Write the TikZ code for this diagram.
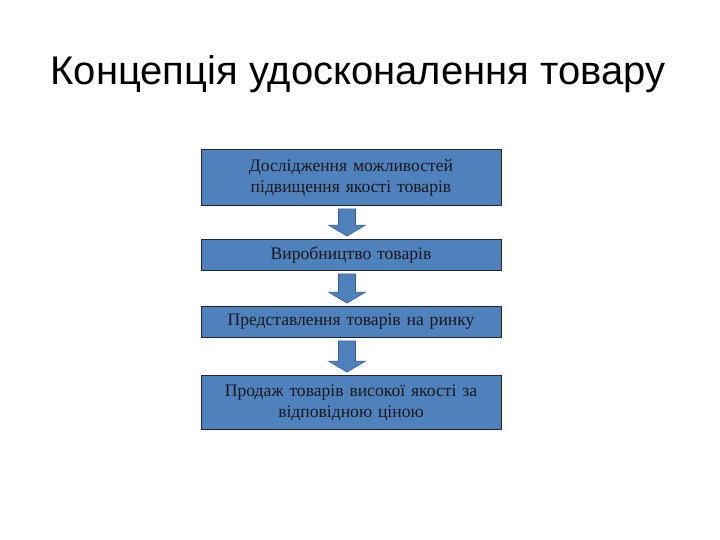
\documentclass[tikz,border=0pt]{standalone}
\usepackage{fontspec}
\usetikzlibrary{calc}
\setmainfont{Liberation Serif}
\newfontfamily\titlefont{Liberation Sans}
\definecolor{boxblue}{HTML}{4F81BD}
\definecolor{arrowedge}{HTML}{3A5F8C}
\begin{document}
\begin{tikzpicture}[x=1pt,y=-1pt,
  stepbox/.style={draw=black!85, line width=0.8pt, fill=boxblue, minimum width=300pt, text width=296pt, align=center, inner sep=0pt, font=\fontsize{17.6}{21}\selectfont, text=black!90},
  blockarrow/.style={draw=arrowedge, line width=0.6pt, fill=boxblue}]
\useasboundingbox (0,0) rectangle (720,540);
\node[font=\titlefont\fontsize{40}{48}\selectfont, anchor=base] (title) at (358,85) {Концепція удосконалення товару};
\node[stepbox, minimum height=56pt] (b1) at (351,177.5) {Дослідження можливостей\\підвищення якості товарів};
\node[stepbox, minimum height=31pt] (b2) at (351,255) {Виробництво товарів};
\node[stepbox, minimum height=31pt] (b3) at (351,322) {Представлення товарів на ринку};
\node[stepbox, minimum height=54pt] (b4) at (351,402.5) {Продаж товарів високої якості за\\відповідною ціною};
\foreach \a/\b in {b1/b2, b2/b3, b3/b4} {
  \path (\a.south) ++(-4,3) coordinate (s);
  \path (\b.north) ++(-4,-3) coordinate (t);
  \draw[blockarrow] ($(s)+(-8.5,0)$) -- ($(s)+(8.5,0)$) |- ($(t)+(18.5,-11)$) -- (t) -- ($(t)+(-18.5,-11)$) -| ($(s)+(-8.5,0)$) -- cycle;
}
\end{tikzpicture}
\end{document}
